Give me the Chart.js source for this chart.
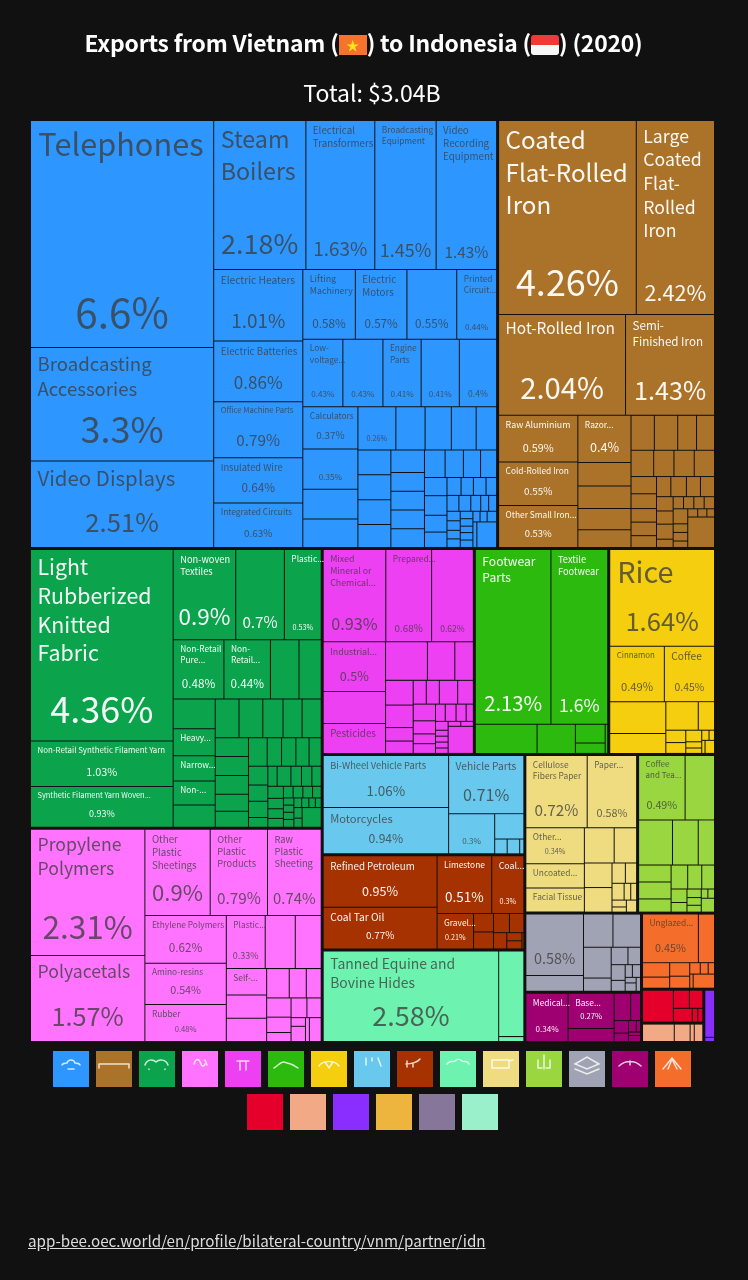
<!DOCTYPE html>
<html>
<head>
<meta charset="utf-8">
<title>Exports from Vietnam to Indonesia (2020)</title>
<script src="https://cdn.jsdelivr.net/npm/chart.js@4/dist/chart.umd.js"></script>
<style>
    html, body { margin: 0; background: #111; }
    #page { position: relative; width: 748px; height: 1280px; overflow: hidden; color: #fff; font-family: "Noto Sans CJK SC", "Noto Sans", sans-serif; }
    #treemap { position: absolute; left: 0; top: 0; }
    h1 { position: absolute; left: 0; top: 25px; width: 727px; margin: 0; text-align: center; font-size: 22.9px; line-height: 34px; font-weight: 700; letter-spacing: -0.2px; white-space: nowrap; }
    #total { position: absolute; left: 0; top: 75px; width: 744px; text-align: center; font-size: 23px; line-height: 34px; }
    .flag { display: inline-block; position: relative; width: 28px; height: 20px; vertical-align: -3px; overflow: hidden; }
    .flag.vn { background: #f4742b; color: #fce21b; font-size: 13px; line-height: 19px; text-align: center; font-weight: 400; }
    .flag.id { background: linear-gradient(#f03a38 50%, #f7f7f7 50%); border-radius: 3px; }
    #legend { position: absolute; left: 49px; top: 1051px; width: 646px; display: flex; flex-wrap: wrap; justify-content: center; gap: 7px; }
    #legend div { width: 36px; height: 36px; }
    #legend svg { display: block; }
    #source { position: absolute; left: 28px; top: 1227px; font-size: 15.2px; line-height: 26px; color: #ddd; text-decoration: underline; }
</style>
</head>
<body>
<div id="page">
    <canvas id="treemap" width="748" height="1280"></canvas>
    <h1>Exports from Vietnam (<span class="flag vn">★</span>) to Indonesia (<span class="flag id"></span>) (2020)</h1>
    <div id="total">Total: $3.04B</div>
    <div id="legend"></div>
    <div id="source">app-bee.oec.world/en/profile/bilateral-country/vnm/partner/idn</div>
</div>

<script>
// ─────────────────────────────────────────
//  1. DATA - share of exports, in % (unnamed tail cells are estimates)
// ─────────────────────────────────────────
const machinesNames = ['Telephones', 'Broadcasting Accessories', 'Video Displays', 'Steam Boilers', 'Electrical Transformers', 'Broadcasting Equipment', 'Video Recording Equipment', 'Electric Heaters', 'Electric Batteries', 'Office Machine Parts', 'Insulated Wire', 'Integrated Circuits', 'Lifting Machinery', 'Electric Motors', '', 'Printed Circuit...', 'Low-voltage...', '', 'Engine Parts', '', '', 'Calculators', '', '', '', ''];
const machinesValues = [6.6, 3.3, 2.51, 2.18, 1.63, 1.45, 1.43, 1.01, 0.86, 0.79, 0.64, 0.63, 0.58, 0.57, 0.55, 0.44, 0.43, 0.43, 0.41, 0.41, 0.4, 0.37, 0.35, 0.26, 0.25, 0.26, 0.2, 0.18, 0.17, 0.14, 0.13, 0.13, 0.13, 0.12, 0.12, 0.1, 0.1, 0.1, 0.1, 0.09, 0.08, 0.075, 0.07, 0.065, 0.07, 0.06, 0.055, 0.04, 0.035, 0.036, 0.03, 0.03, 0.03, 0.025, 0.02, 0.02, 0.02, 0.02, 0.018, 0.018, 0.015, 0.015, 0.013, 0.015, 0.015, 0.012, 0.012, 0.016, 0.016, 0.08];
const machinesNameSizes = [33, 20, 22, 25, 10.5, 9, 10.5, 11, 10.5, 8.3, 10, 9, 9.5, 10.5, 0, 9, 9, 0, 9, 0, 0, 9, 0, 0, 0, 0];
const machinesShareSizes = [45, 40, 28.5, 30, 21, 20, 17, 21, 19, 17, 13, 11, 13, 13, 13, 9, 9, 9, 9, 9, 9.5, 11, 9, 0, 0, 8];

const metalsNames = ['Coated Flat-Rolled Iron', 'Large Coated Flat-Rolled Iron', 'Hot-Rolled Iron', 'Semi-\nFinished Iron', 'Raw Aluminium', 'Cold-Rolled Iron', 'Other Small Iron...', 'Razor...'];
const metalsValues = [4.26, 2.42, 2.04, 1.43, 0.59, 0.55, 0.53, 0.4, 0.2, 0.19, 0.18, 0.15, 0.13, 0.13, 0.105, 0.1, 0.095, 0.085, 0.085, 0.085, 0.07, 0.06, 0.055, 0.055, 0.048, 0.046, 0.05, 0.045, 0.045, 0.038, 0.035, 0.04, 0.022, 0.02, 0.02, 0.02, 0.02, 0.035, 0.02, 0.02, 0.015, 0.013, 0.012, 0.01, 0.13];
const metalsNameSizes = [26, 19, 16.6, 12.5, 9.5, 9, 9, 9];
const metalsShareSizes = [40, 24, 32.5, 28, 12, 11, 10.5, 14];

const textilesNames = ['Light Rubberized Knitted Fabric', 'Non-Retail Synthetic Filament Yarn', 'Synthetic Filament Yarn Woven...', 'Non-woven Textiles', '', 'Plastic...', 'Non-Retail Pure...', 'Non-Retail...', '', '', '', 'Heavy...', 'Narrow...', 'Non-...'];
const textilesValues = [4.36, 1.03, 0.93, 0.9, 0.7, 0.53, 0.48, 0.44, 0.27, 0.21, 0.2, 0.18, 0.17, 0.16, 0.15, 0.147, 0.147, 0.125, 0.118, 0.118, 0.1, 0.1, 0.1, 0.09, 0.085, 0.085, 0.065, 0.065, 0.06, 0.055, 0.058, 0.05, 0.05, 0.03, 0.03, 0.044, 0.034, 0.033, 0.03, 0.03, 0.026, 0.024, 0.022, 0.018, 0.018, 0.018, 0.016, 0.012, 0.012, 0.012, 0.013, 0.012, 0.011, 0.01, 0.009, 0.014, 0.012, 0.06];
const textilesNameSizes = [23, 8.5, 8, 10, 0, 9, 9, 9, 0, 0, 0, 9, 9, 9];
const textilesShareSizes = [40, 12, 10, 25, 17, 8, 13, 13, 0, 0, 0, 0, 0, 0];

const plasticsNames = ['Propylene Polymers', 'Polyacetals', 'Other Plastic Sheetings', 'Other Plastic Products', 'Raw Plastic Sheeting', 'Ethylene Polymers', 'Amino-resins', 'Rubber', 'Plastic...', '', '', 'Self-...'];
const plasticsValues = [2.31, 1.57, 0.9, 0.79, 0.74, 0.62, 0.54, 0.48, 0.33, 0.255, 0.22, 0.17, 0.15, 0.15, 0.106, 0.08, 0.07, 0.075, 0.06, 0.035, 0.05, 0.045, 0.02, 0.035, 0.015, 0.045];
const plasticsNameSizes = [19, 19, 10.5, 10, 10, 9, 9, 9, 9, 0, 0, 9];
const plasticsShareSizes = [35, 28, 24.5, 17, 16.5, 13, 12, 8.5, 10, 0, 0, 0];

const chemicalsNames = ['Mixed Mineral or Chemical...', 'Prepared...', '', 'Industrial...', '', 'Pesticides'];
const chemicalsValues = [0.93, 0.68, 0.62, 0.5, 0.32, 0.3, 0.26, 0.17, 0.115, 0.11, 0.1, 0.06, 0.055, 0.05, 0.05, 0.07, 0.06, 0.06, 0.047, 0.035, 0.035, 0.027, 0.03, 0.028, 0.02, 0.018, 0.012, 0.012, 0.012, 0.011, 0.01, 0.01, 0.11];
const chemicalsNameSizes = [9.5, 9, 0, 9.5, 0, 10.5];
const chemicalsShareSizes = [18, 11, 9.5, 14, 0, 0];

const footwearNames = ['Footwear Parts', 'Textile Footwear'];
const footwearValues = [2.13, 1.6, 0.29, 0.18, 0.09, 0.05, 0.012];
const footwearNameSizes = [13, 10];
const footwearShareSizes = [22.5, 19.5];

const foodNames = ['Rice', 'Cinnamon', 'Coffee'];
const foodValues = [1.64, 0.49, 0.45, 0.29, 0.18, 0.15, 0.075, 0.04, 0.035, 0.03, 0.016, 0.014, 0.012, 0.009, 0.007, 0.02];
const foodNameSizes = [31, 8.5, 11];
const foodShareSizes = [28.5, 12.5, 11.5];

const transportNames = ['Bi-Wheel Vehicle Parts', 'Motorcycles', 'Vehicle Parts', ''];
const transportValues = [1.06, 0.94, 0.71, 0.3, 0.12, 0.03, 0.03, 0.01];
const transportNameSizes = [10, 12, 11, 0];
const transportShareSizes = [15, 13.5, 18, 9];

const mineralsNames = ['Refined Petroleum', 'Coal Tar Oil', 'Limestone', 'Coal...', 'Gravel...'];
const mineralsValues = [0.95, 0.77, 0.51, 0.3, 0.21, 0.06, 0.055, 0.05, 0.045, 0.035, 0.02, 0.02, 0.005];
const mineralsNameSizes = [10.5, 11, 9, 9.5, 9];
const mineralsShareSizes = [14, 11, 15, 8, 8];

const hidesNames = ['Tanned Equine and Bovine Hides'];
const hidesValues = [2.58, 0.35, 0.02];
const hidesNameSizes = [15];
const hidesShareSizes = [30];

const paperNames = ['Cellulose Fibers Paper', 'Paper...', 'Other...', 'Uncoated...', 'Facial Tissue'];
const paperValues = [0.72, 0.58, 0.34, 0.23, 0.23, 0.17, 0.128, 0.11, 0.11, 0.044, 0.037, 0.033, 0.018, 0.016, 0.016, 0.012, 0.02];
const paperNameSizes = [9, 9, 9, 9, 9];
const paperShareSizes = [17, 12, 8, 0, 0];

const vegetablesNames = ['Coffee\nand Tea...'];
const vegetablesValues = [0.49, 0.31, 0.25, 0.19, 0.12, 0.09, 0.09, 0.07, 0.065, 0.055, 0.05, 0.035, 0.025, 0.02, 0.018, 0.016, 0.01, 0.01, 0.03];
const vegetablesNameSizes = [8.6];
const vegetablesShareSizes = [12];

const stoneGreyNames = [''];
const stoneGreyValues = [0.58, 0.15, 0.16, 0.15, 0.14, 0.06, 0.048, 0.036, 0.036, 0.025, 0.015, 0.017, 0.01, 0.015, 0.01];
const stoneGreyNameSizes = [0];
const stoneGreyShareSizes = [16];

const instrumentsNames = ['Medical...', 'Base...'];
const instrumentsValues = [0.34, 0.27, 0.1, 0.075, 0.045, 0.03, 0.02, 0.015, 0.008, 0.007, 0.012];
const instrumentsNameSizes = [9, 9];
const instrumentsShareSizes = [9, 8.5];

const ceramicsNames = ['Unglazed...'];
const ceramicsValues = [0.45, 0.13, 0.065, 0.05, 0.045, 0.04, 0.02, 0.015, 0.012, 0.008, 0.05];
const ceramicsNameSizes = [9];
const ceramicsShareSizes = [12];

const miscValues = [0.17, 0.05, 0.042, 0.045, 0.013, 0.012];
const animalValues = [0.1, 0.05, 0.013, 0.027];
const weaponsValues = [0.09, 0.008];

// sectors in drawing order: [id, names, values, name sizes, share sizes, colour, text colour]
const DARK = 'rgba(60,60,60,0.78)';
const LIGHT = 'rgba(255,255,255,0.95)';
const sectors = [
    ['Machines', machinesNames, machinesValues, machinesNameSizes, machinesShareSizes, '#2e97ff', DARK],
    ['Metals', metalsNames, metalsValues, metalsNameSizes, metalsShareSizes, '#aa7329', LIGHT],
    ['Textiles', textilesNames, textilesValues, textilesNameSizes, textilesShareSizes, '#0ba34c', LIGHT],
    ['Plastics', plasticsNames, plasticsValues, plasticsNameSizes, plasticsShareSizes, '#ff73ff', DARK],
    ['Chemicals', chemicalsNames, chemicalsValues, chemicalsNameSizes, chemicalsShareSizes, '#ed40f2', DARK],
    ['Footwear', footwearNames, footwearValues, footwearNameSizes, footwearShareSizes, '#2cba0f', LIGHT],
    ['Foodstuffs', foodNames, foodValues, foodNameSizes, foodShareSizes, '#f4ce0f', DARK],
    ['Transportation', transportNames, transportValues, transportNameSizes, transportShareSizes, '#69c8ed', DARK],
    ['Minerals', mineralsNames, mineralsValues, mineralsNameSizes, mineralsShareSizes, '#a53200', LIGHT],
    ['Hides', hidesNames, hidesValues, hidesNameSizes, hidesShareSizes, '#6df2b0', DARK],
    ['Paper', paperNames, paperValues, paperNameSizes, paperShareSizes, '#efdc81', DARK],
    ['Vegetables', vegetablesNames, vegetablesValues, vegetablesNameSizes, vegetablesShareSizes, '#99d63f', DARK],
    ['Stone', stoneGreyNames, stoneGreyValues, stoneGreyNameSizes, stoneGreyShareSizes, '#a0a3b3', DARK],
    ['Instruments', instrumentsNames, instrumentsValues, instrumentsNameSizes, instrumentsShareSizes, '#9e0071', LIGHT],
    ['Ceramics', ceramicsNames, ceramicsValues, ceramicsNameSizes, ceramicsShareSizes, '#f46d2a', DARK],
    ['Miscellaneous', [], miscValues, [], [], '#e5002b', DARK],
    ['Animal Products', [], animalValues, [], [], '#f2aa86', DARK],
    ['Weapons', [], weaponsValues, [], [], '#892eff', DARK],
];

// legend swatches, the last three sectors have no cell large enough to see
const legendColors = sectors.map(s => s[5]).concat(['#edb53d', '#85769a', '#99f0cb']);
const legendIcons = [
    'M9 14c1-2 3-2 5-2c1-4 7-4 8 0c2 0 4 0 5 2M15 18h6', 'M3 13h30M3 13v4M33 13v4', 'M6 14c2-6 8-6 11-3c3-3 10-3 12 3M10 18v.5M26 18v.5',
    'M12 13c2-6 5-6 7 0c1 3 3 3 4 0M23 9l2 5', 'M12 10h12M15 10v9M21 10v9', 'M6 17c4-2 7-7 10-6c5 1 11 4 14 6',
    'M8 15c4-6 16-6 20 0M14 11l4 6l4-6', 'M12 7v7M18 7v3M24 7l3 8', 'M9 13c5 0 12-2 14-5M10 10v6M16 12v4',
    'M7 13c3-5 6-1 8-3c2-2 5-2 7 0c2 2 5-2 7 3', 'M9 9h17v8H9zM26 10l4-1', 'M18 4v14M12 9v8h4M24 9v8h-4',
    'M6 13l12-7l12 7l-12 5zM6 18l12 5l12-5', 'M7 15c6-6 16-6 22 0M18 10v4', 'M8 18l9-11l9 11M13 18l4-10l5 10',
];

// ─────────────────────────────────────────
//  2. SQUARIFIED LAYOUT (plot units, 1 unit = 1 px)
// ─────────────────────────────────────────
const PLOT_WIDTH = 683;
const PLOT_HEIGHT = 920;
const SECTOR_GAP = 3;
const CELL_GAP = 1;
const RATIO = (1 + Math.sqrt(5)) / 2;
const NAME_SCALE = 0.93;
const SHARE_SCALE = 0.9;

function squarify(values, x0, y0, x1, y1) {
    const rects = [];
    let remaining = values.reduce((a, b) => a + b, 0);
    let i0 = 0;
    while (i0 < values.length) {
        const dx = x1 - x0, dy = y1 - y0;
        let i1 = i0;
        let sum = values[i1++];
        let min = sum, max = sum;
        const alpha = Math.max(dy / dx, dx / dy) / (remaining * RATIO);
        let beta = sum * sum * alpha;
        let best = Math.max(max / beta, beta / min);
        for (; i1 < values.length; i1++) {
            const v = values[i1];
            const nextMin = Math.min(min, v), nextMax = Math.max(max, v);
            beta = (sum + v) * (sum + v) * alpha;
            const ratio = Math.max(nextMax / beta, beta / nextMin);
            if (ratio > best) break;
            best = ratio; sum += v; min = nextMin; max = nextMax;
        }
        if (dx < dy) {
            // row along the top
            const rowBottom = y0 + dy * sum / remaining;
            let x = x0;
            for (let i = i0; i < i1; i++) {
                const w = dx * values[i] / sum;
                rects.push({ x0: x, x1: x + w, y0: y0, y1: rowBottom });
                x += w;
            }
            y0 = rowBottom;
        } else {
            // column on the left
            const colRight = x0 + dx * sum / remaining;
            let y = y0;
            for (let i = i0; i < i1; i++) {
                const h = dy * values[i] / sum;
                rects.push({ x0: x0, x1: colRight, y0: y, y1: y + h });
                y += h;
            }
            x0 = colRight;
        }
        remaining -= sum;
        i0 = i1;
    }
    return rects;
}

function inset(r, p) {
    return { x0: r.x0 + p, y0: r.y0 + p, x1: r.x1 - p, y1: r.y1 - p };
}

const sectorTotals = sectors.map(s => s[2].reduce((a, b) => a + b, 0));
const sectorRects = squarify(sectorTotals, -SECTOR_GAP / 2, -SECTOR_GAP / 2, PLOT_WIDTH + SECTOR_GAP / 2, PLOT_HEIGHT + SECTOR_GAP / 2);

const datasets = sectors.map(function (s, i) {
    const box = inset(sectorRects[i], SECTOR_GAP / 2 - CELL_GAP / 2);
    const cells = squarify(s[2], box.x0, box.y0, box.x1, box.y1);
    return {
        label: s[0],
        names: s[1],
        nameSizes: s[3],
        shareSizes: s[4],
        textColor: s[6],
        backgroundColor: s[5],
        data: cells.map(function (c, j) {
            const r = inset(c, CELL_GAP / 2);
            return { x: r.x0, y: r.y0, x1: r.x1, y1: r.y1, share: s[2][j] };
        }),
    };
});

// ─────────────────────────────────────────
//  3. TREEMAP CONTROLLER (BarElement rectangles on two linear scales)
// ─────────────────────────────────────────
class TreemapController extends Chart.DatasetController {
    update(mode) {
        const meta = this._cachedMeta;
        this.updateElements(meta.data, 0, meta.data.length, mode);
    }

    updateElements(rects, start, count, mode) {
        const { xScale, yScale } = this._cachedMeta;
        const raw = this.getDataset().data;
        for (let i = start; i < start + count; i++) {
            const left = xScale.getPixelForValue(raw[i].x);
            const right = xScale.getPixelForValue(raw[i].x1);
            const top = yScale.getPixelForValue(raw[i].y);
            const bottom = yScale.getPixelForValue(raw[i].y1);
            this.updateElement(rects[i], i, {
                horizontal: false,
                x: (left + right) / 2,
                width: right - left,
                y: top,
                base: bottom,
                height: bottom - top,
                borderSkipped: {},
                enableBorderRadius: false,
                inflateAmount: 0,
                options: this.resolveDataElementOptions(i, mode),
            }, mode);
        }
    }
}
TreemapController.id = 'treemap';
TreemapController.defaults = { datasetElementType: false, dataElementType: 'bar' };
Chart.register(TreemapController);

// ─────────────────────────────────────────
//  4. CELL LABELS
// ─────────────────────────────────────────
const FONT_FAMILY = '"Noto Sans CJK SC", "Noto Sans", sans-serif';

// greedy wrap on spaces and after hyphens, a \n in the name forces a break
function wrapName(ctx, name, maxWidth) {
    const lines = [];
    name.split('\n').forEach(function (chunk) {
        const parts = chunk.match(/[^ -]+-?|[^ -]*-/g);
        let line = '';
        parts.forEach(function (part) {
            const glue = line && !line.endsWith('-') ? ' ' : '';
            const test = line + glue + part;
            if (line && ctx.measureText(test).width > maxWidth) {
                lines.push(line);
                line = part;
            } else {
                line = test;
            }
        });
        lines.push(line);
    });
    return lines;
}

const cellLabels = {
    id: 'cellLabels',
    afterDatasetsDraw(chart) {
        const ctx = chart.ctx;
        ctx.save();
        chart.data.datasets.forEach(function (ds, di) {
            const elements = chart.getDatasetMeta(di).data;
            ctx.fillStyle = ds.textColor;
            ds.shareSizes.forEach(function (size, i) {
                const el = elements[i];
                const left = el.x - el.width / 2, right = el.x + el.width / 2;
                const nameSize = ds.nameSizes[i] * NAME_SCALE;
                if (ds.names[i] && nameSize) {
                    ctx.font = '400 ' + nameSize + 'px ' + FONT_FAMILY;
                    ctx.textAlign = 'left';
                    ctx.textBaseline = 'top';
                    const pad = Math.max(6.5, nameSize * 0.24);
                    wrapName(ctx, ds.names[i], right - left - pad).forEach(function (text, n) {
                        ctx.fillText(text, left + pad, el.y + 3 + nameSize * 0.17 + n * nameSize * 1.34);
                    });
                }
                const shareSize = size * SHARE_SCALE;
                if (shareSize) {
                    ctx.font = '400 ' + shareSize + 'px ' + FONT_FAMILY;
                    ctx.textAlign = 'center';
                    ctx.textBaseline = 'middle';
                    ctx.fillText(ds.data[i].share + '%', (left + right) / 2, el.base - (shareSize * 0.7 + 6.5));
                }
            });
        });
        ctx.restore();
    },
};

// ─────────────────────────────────────────
//  5. CHART + LEGEND
// ─────────────────────────────────────────
new Chart(document.getElementById('treemap'), {
    type: 'treemap',
    data: { datasets: datasets },
    plugins: [cellLabels],
    options: {
        responsive: false,
        animation: false,
        events: [],
        layout: { padding: { left: 31, right: 34, top: 121, bottom: 239 } },
        plugins: { legend: { display: false }, title: { display: false }, tooltip: { enabled: false } },
        scales: {
            x: { type: 'linear', display: false, min: 0, max: PLOT_WIDTH },
            y: { type: 'linear', display: false, min: 0, max: PLOT_HEIGHT, reverse: true },
        },
    },
});

const legendEl = document.getElementById('legend');
legendColors.forEach(function (color, i) {
    const box = document.createElement('div');
    box.style.background = color;
    if (legendIcons[i]) {
        box.innerHTML = '<svg width="36" height="36" viewBox="0 0 36 36" fill="none" stroke="rgba(255,255,255,0.8)" stroke-width="1.5" stroke-linecap="round"><path d="' + legendIcons[i] + '"/></svg>';
    }
    legendEl.appendChild(box);
});
</script>
</body>
</html>
